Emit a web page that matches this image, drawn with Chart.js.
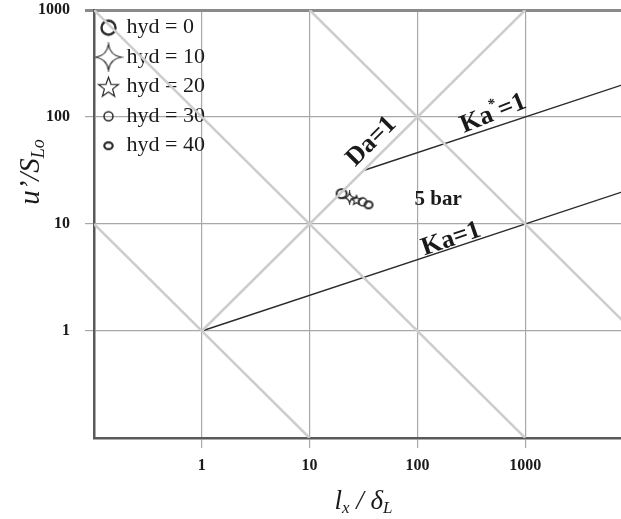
<!DOCTYPE html>
<html>
<head>
<meta charset="utf-8">
<script src="https://cdn.jsdelivr.net/npm/chart.js@4.4.1/dist/chart.umd.min.js"></script>
<style>
  html, body { margin: 0; padding: 0; background: #fff; overflow: hidden; }
  #wrap { width: 640px; height: 519px; }
</style>
</head>
<body>
<div id="wrap"><canvas id="borghi" width="640" height="519"></canvas></div>
<script>
// Operating points, one per hydrogen fraction
const hydLevels = [0, 10, 20, 30, 40];
const lengthRatio = [19.8, 23.5, 27.2, 31.0, 35.2];    // l_x / delta_L
const velocityRatio = [19.2, 17.6, 16.8, 16.1, 15.1];  // u' / S_Lo

// Labelled ticks
const xTicks = [1, 10, 100, 1000];
const yTicks = [1, 10, 100, 1000];

// Light guide lines (slope -1 / +1 in log-log)
const guideX = [[0.1, 10], [0.1, 1000], [10, 100000], [1, 1000]];
const guideY = [[10, 0.1], [1000, 0.1], [1000, 0.1], [1, 1000]];

// Regime boundaries
const kaX = [1, 10000];
const kaY = [1, 21.54];
const kaStarX = [31.6, 10000];
const kaStarY = [31.6, 215.4];

const SERIF = '"Liberation Serif", "Times New Roman", serif';
const INK = '#1a1a1a';

// ---- marker images ----
function marker(w, h, draw) {
    const c = document.createElement('canvas');
    c.width = w;
    c.height = h;
    const g = c.getContext('2d');
    g.translate(w / 2, h / 2);
    g.strokeStyle = '#2a2a2a';
    draw(g);
    return c;
}

function ring(rx, ry, lw) {
    return marker(Math.ceil(rx * 2 + lw + 2), Math.ceil(ry * 2 + lw + 2), g => {
        g.lineWidth = lw;
        g.beginPath();
        g.ellipse(0, 0, rx, ry, 0, 0, Math.PI * 2);
        g.stroke();
    });
}

function sparkle(r, lw) {
    // four-pointed star with concave sides
    return marker(Math.ceil(r * 2 + 4), Math.ceil(r * 2 + 4), g => {
        g.lineWidth = lw;
        g.beginPath();
        const k = r * 0.12;
        g.moveTo(0, -r);
        g.quadraticCurveTo(k, -k, r, 0);
        g.quadraticCurveTo(k, k, 0, r);
        g.quadraticCurveTo(-k, k, -r, 0);
        g.quadraticCurveTo(-k, -k, 0, -r);
        g.closePath();
        g.stroke();
    });
}

function star(r, inner, lw) {
    return marker(Math.ceil(r * 2 + 4), Math.ceil(r * 2 + 4), g => {
        g.lineWidth = lw;
        g.beginPath();
        for (let i = 0; i < 10; i++) {
            const rr = i % 2 ? inner : r;
            const a = -Math.PI / 2 + i * Math.PI / 5;
            g.lineTo(rr * Math.cos(a), rr * Math.sin(a) + r * 0.1);
        }
        g.closePath();
        g.stroke();
    });
}

const plotMarkers = [
    ring(5, 4.5, 2),
    sparkle(5.5, 1.3),
    star(5, 2.2, 1.2),
    ring(4, 4, 1.5),
    ring(4, 3.5, 2)
];

const legendMarkers = [
    ring(7, 7, 2.4),
    sparkle(13, 1.2),
    star(10.5, 4.3, 1.2),
    ring(4.5, 4.5, 1.5),
    ring(4.2, 3.4, 2.2)
];

// ---- text annotations placed in data coordinates ----
const notes = [
    { x: 37.5, y: 59, angle: -45, parts: [{ text: 'Da=1', size: 26 }] },
    { x: 506, y: 107, angle: -22, parts: [{ text: 'Ka', size: 26 }, { text: '*', size: 15, dy: -9 }, { text: '=1', size: 26 }] },
    { x: 206, y: 7.2, angle: -19, parts: [{ text: 'Ka=1', size: 26 }] },
    { x: 156, y: 16.8, angle: 0, parts: [{ text: '5 bar', size: 21 }] }
];

function drawRich(ctx, parts, x, y, angle, style) {
    ctx.save();
    ctx.translate(x, y);
    ctx.rotate(angle * Math.PI / 180);
    ctx.textBaseline = 'middle';
    ctx.textAlign = 'left';
    ctx.fillStyle = INK;
    const fontOf = p => `${style} ${p.size}px ${SERIF}`;
    let total = 0;
    parts.forEach(p => { ctx.font = fontOf(p); total += ctx.measureText(p.text).width; });
    let cx = -total / 2;
    parts.forEach(p => {
        ctx.font = fontOf(p);
        ctx.fillText(p.text, cx, p.dy || 0);
        cx += ctx.measureText(p.text).width;
    });
    ctx.restore();
}

const annotations = {
    id: 'annotations',
    afterDatasetsDraw(chart) {
        const { ctx, scales } = chart;
        notes.forEach(n => {
            drawRich(ctx, n.parts, scales.x.getPixelForValue(n.x), scales.y.getPixelForValue(n.y), n.angle, 'bold');
        });

        // axis titles with subscripts
        const area = chart.chartArea;
        drawRich(ctx, [
            { text: 'l', size: 27 },
            { text: 'x', size: 17, dy: 7 },
            { text: ' / ', size: 27 },
            { text: 'δ', size: 27 },
            { text: 'L', size: 17, dy: 7 }
        ], (area.left + area.right) / 2, 502, 0, 'italic');

        drawRich(ctx, [
            { text: 'u\u2019/S', size: 29 },
            { text: 'Lo', size: 18, dy: 8 }
        ], 31, 172, -90, 'italic');
    }
};

// ---- datasets ----
const pointSets = hydLevels.map((h, i) => ({
    label: `hyd = ${h}`,
    data: [{ x: lengthRatio[i], y: velocityRatio[i] }],
    pointStyle: plotMarkers[i],
    showLine: false
}));

const guideSets = guideX.map((xs, i) => ({
    label: 'guide',
    data: xs.map((x, j) => ({ x, y: guideY[i][j] })),
    showLine: true,
    borderColor: '#cdcdcd',
    borderWidth: 2.5,
    pointRadius: 0
}));

const boundary = (xs, ys) => ({
    label: 'boundary',
    data: xs.map((x, j) => ({ x, y: ys[j] })),
    showLine: true,
    borderColor: '#2b2b2b',
    borderWidth: 1.4,
    pointRadius: 0
});

const tickFont = { family: SERIF, size: 16, weight: 'bold' };

// keep the plot frame fixed regardless of label overhang
const noOverhang = s => {
    s.paddingTop = 0;
    s.paddingBottom = 0;
    s.paddingLeft = 0;
    s.paddingRight = 0;
};

new Chart(document.getElementById('borghi'), {
    type: 'scatter',
    data: {
        datasets: [...guideSets, boundary(kaX, kaY), boundary(kaStarX, kaStarY), ...pointSets]
    },
    options: {
        responsive: false,
        animation: false,
        devicePixelRatio: 1,
        layout: { padding: { top: 10, right: 7, left: 0, bottom: 0 } },
        scales: {
            x: {
                type: 'logarithmic',
                min: 0.1,
                max: 10000,
                afterBuildTicks: s => { s.ticks = xTicks.map(v => ({ value: v })); },
                afterFit: s => { s.height = 81; noOverhang(s); },
                ticks: { callback: v => String(v), font: tickFont, color: INK, padding: 8, maxRotation: 0 },
                grid: { color: '#a8a8a8', lineWidth: 1.2, tickLength: 10 },
                border: { color: '#5a5a5a', width: 2.5 }
            },
            y: {
                type: 'logarithmic',
                min: 0.1,
                max: 1000,
                afterBuildTicks: s => { s.ticks = yTicks.map(v => ({ value: v })); },
                afterFit: s => { s.width = 94; noOverhang(s); },
                ticks: { callback: v => String(v), font: tickFont, color: INK, padding: 15 },
                grid: {
                    color: c => (c.tick && c.tick.value === 1000 ? '#8a8a8a' : '#a8a8a8'),
                    lineWidth: c => (c.tick && c.tick.value === 1000 ? 3 : 1.2),
                    tickLength: 9
                },
                border: { color: '#5a5a5a', width: 2.5 }
            }
        },
        plugins: {
            tooltip: { enabled: false },
            legend: {
                position: 'chartArea',
                align: 'start',
                // empty title only pushes the entries down a little
                title: { display: true, text: ' ', font: { size: 1 }, padding: { top: 4, bottom: 4 } },
                labels: {
                    usePointStyle: true,
                    pointStyleWidth: 14,
                    padding: 7.5,
                    color: INK,
                    font: { family: SERIF, size: 22 },
                    generateLabels: () => hydLevels.map((h, i) => ({
                        text: `hyd = ${h}`,
                        pointStyle: legendMarkers[i],
                        fillStyle: 'transparent',
                        strokeStyle: 'transparent',
                        lineWidth: 0,
                        hidden: false,
                        fontColor: INK,
                        datasetIndex: guideSets.length + 2 + i
                    }))
                }
            }
        }
    },
    plugins: [annotations]
});
</script>
</body>
</html>
